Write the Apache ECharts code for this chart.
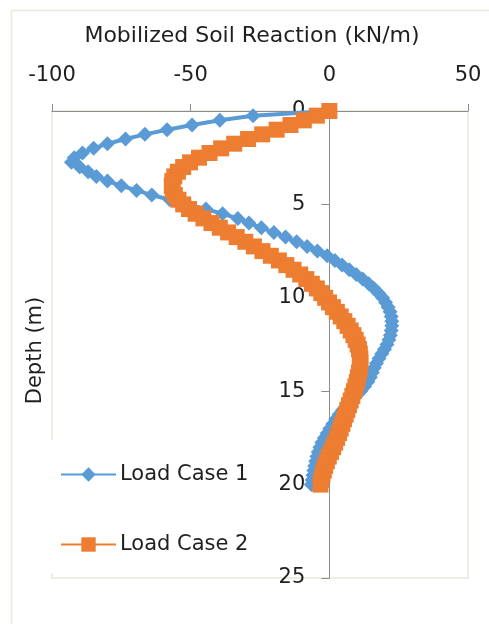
<!DOCTYPE html>
<html>
<head>
<meta charset="utf-8">
<script src="https://cdn.jsdelivr.net/npm/echarts@6/dist/echarts.min.js"></script>
<style>
html,body{margin:0;padding:0;background:#fff;}
#chart{width:489px;height:624px;}
</style>
</head>
<body>
<div id="chart"></div>
<script>
var depths = [0,0.25,0.5,0.75,1,1.25,1.5,1.75,2,2.25,2.5,2.75,3,3.25,3.5,3.75,4,4.25,4.5,4.75,5,5.25,5.5,5.75,6,6.25,6.5,6.75,7,7.25,7.5,7.75,8,8.25,8.5,8.75,9,9.25,9.5,9.75,10,10.25,10.5,10.75,11,11.25,11.5,11.75,12,12.25,12.5,12.75,13,13.25,13.5,13.75,14,14.25,14.5,14.75,15,15.25,15.5,15.75,16,16.25,16.5,16.75,17,17.25,17.5,17.75,18,18.25,18.5,18.75,19,19.25,19.5,19.75,20];

var loadCase1 = [0,-27.5,-39.5,-49.5,-58.5,-66.5,-73.5,-80,-85,-89,-92,-93,-90,-87,-84,-80,-75,-69.5,-64,-57.5,-51,-44.5,-38.5,-33,-29,-24.5,-20,-15.8,-11.8,-8,-4.3,-0.8,2,4.6,7.2,9.7,12,14.2,16.1,17.8,19.2,20.3,21.2,21.9,22.3,22.5,22.5,22.3,22,21.5,20.8,19.9,18.9,17.9,17,16.2,15.5,14.8,13.9,12.7,11.3,9.7,8,6.3,4.8,3.5,2.3,1.2,0.2,-0.8,-1.8,-2.7,-3.4,-4,-4.5,-4.9,-5.3,-5.6,-5.9,-6.2,-6.5];

var loadCase2 = [0,-4.5,-9.2,-14,-19,-24.2,-29.3,-34.3,-39,-43.2,-47,-50.2,-52.7,-54.6,-55.9,-56.6,-56.8,-56.5,-55.7,-54.4,-52.7,-50.6,-48.2,-45.4,-42.5,-39.5,-36.5,-33.4,-30.3,-27.2,-24.1,-21.1,-18.2,-15.5,-12.9,-10.5,-8.3,-6.3,-4.5,-2.9,-1.5,-0.1,1.3,2.7,4.1,5.4,6.6,7.7,8.7,9.5,10.2,10.7,11,11.2,11.2,11,10.7,10.3,9.9,9.4,8.9,8.3,7.7,7.1,6.5,5.9,5.3,4.7,4.1,3.5,2.8,2.1,1.4,0.6,-0.2,-0.9,-1.5,-2,-2.5,-2.9,-3.2];

var seriesNames = ['Load Case 1', 'Load Case 2'];
var xTitle = 'Mobilized Soil Reaction (kN/m)';
var yTitle = 'Depth (m)';

function pairs(vals){ return vals.map(function(v,i){ return [v, depths[i]]; }); }

var FONT = 'DejaVu Sans';
var TXT = '#1f1f1f';
var GRID_L = 52, GRID_R = 21, W = 489;
var X_MIN = -100, X_MAX = 50;
// y axis sits on x = 0; offset computed from the x scale
var zeroOffset = -((0 - X_MIN) / (X_MAX - X_MIN)) * (W - GRID_L - GRID_R);

var chart = echarts.init(document.getElementById('chart'), null, {renderer:'canvas'});
chart.setOption({
  animation: false,
  backgroundColor: '#ffffff',
  graphic: [{
    type: 'rect', z: -10, silent: true,
    shape: {x: 11.5, y: 10.5, width: 500, height: 640},
    style: {fill: 'none', stroke: '#ebe8dc', lineWidth: 1.5}
  }],
  grid: {left: GRID_L, right: GRID_R, top: 111, bottom: 46, show: true, borderColor: '#e9e6da', borderWidth: 1.5, backgroundColor: 'transparent', containLabel: false, outerBoundsMode: 'none'},
  legend: {
    orient: 'vertical', left: 50, top: 440,
    padding: [24, 10, 18, 10],
    backgroundColor: '#ffffff',
    itemWidth: 55, itemHeight: 18, itemGap: 49,
    textStyle: {fontFamily: FONT, fontSize: 21, color: TXT, padding: [0,0,0,-1]},
    data: seriesNames
  },
  xAxis: {
    type: 'value', position: 'top', min: X_MIN, max: X_MAX, interval: 50,
    name: xTitle, nameLocation: 'middle', nameGap: 64,
    nameTextStyle: {fontFamily: FONT, fontSize: 22, color: TXT, padding: [0, 16, 0, 0]},
    axisLine: {show: true, onZero: false, lineStyle: {color: '#8c8c8c', width: 1}},
    axisTick: {show: true, inside: false, length: 7, lineStyle: {color: '#8c8c8c'}},
    axisLabel: {fontFamily: FONT, fontSize: 21, color: TXT, margin: 25},
    splitLine: {show: false}
  },
  yAxis: {
    type: 'value', inverse: true, min: 0, max: 25, interval: 5,
    position: 'left', offset: zeroOffset,
    name: yTitle, nameLocation: 'middle', nameGap: 283, nameRotate: 90,
    nameTextStyle: {fontFamily: FONT, fontSize: 21, color: TXT, padding: [0, 12, 0, 0]},
    axisLine: {show: true, onZero: false, lineStyle: {color: '#8c8c8c', width: 1}},
    axisTick: {show: true, inside: false, length: 8, lineStyle: {color: '#8c8c8c'}},
    axisLabel: {fontFamily: FONT, fontSize: 21, color: TXT, margin: 24},
    splitLine: {show: false}
  },
  series: [{
    name: seriesNames[0], type: 'line', data: pairs(loadCase1),
    symbol: 'diamond', symbolSize: 15, showSymbol: true,
    itemStyle: {color: '#5b9bd5'}, lineStyle: {color: '#5b9bd5', width: 4},
    z: 2
  }, {
    name: seriesNames[1], type: 'line', data: pairs(loadCase2),
    symbol: 'rect', symbolSize: 16, showSymbol: true,
    itemStyle: {color: '#ed7d31'}, lineStyle: {color: '#ed7d31', width: 4},
    z: 3
  }]
});
</script>
</body>
</html>
